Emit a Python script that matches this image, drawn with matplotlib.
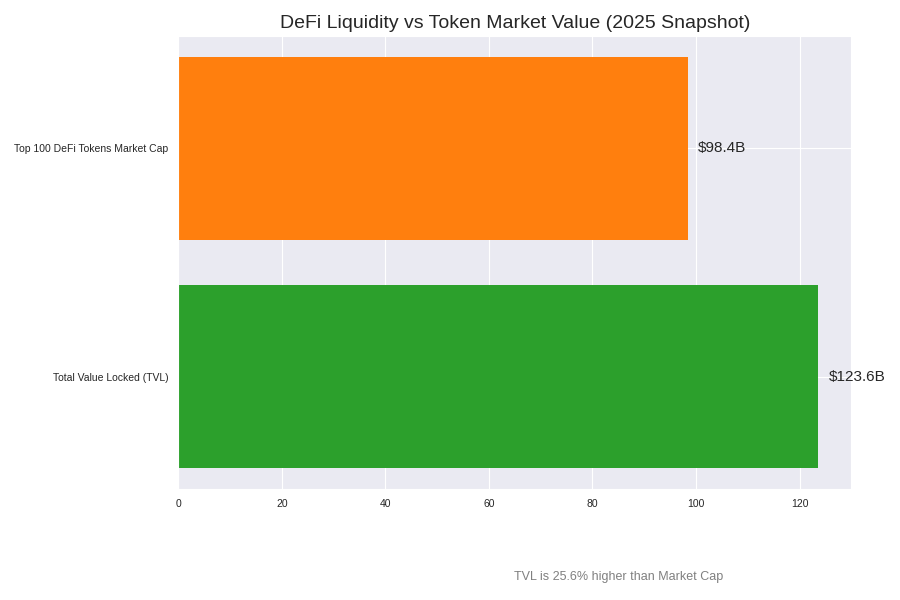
import matplotlib
matplotlib.use("Agg")
import matplotlib.pyplot as plt
import seaborn as sns

sns.set_style("darkgrid")
plt.rcParams['font.family'] = ['Liberation Sans', 'DejaVu Sans']

categories = ["Total Value Locked (TVL)", "Top 100 DeFi Tokens Market Cap"]
values = [123.6, 98.4]
colors = ["#2ca02c", "#ff7f0e"]

fig, ax = plt.subplots(figsize=(9, 6), dpi=100)
fig.subplots_adjust(left=0.198, right=0.946, top=0.94, bottom=0.185)

bars = ax.barh(categories, values, color=colors, height=0.8, edgecolor="none")
for bar, v in zip(bars, values):
    ax.text(v + 2, bar.get_y() + bar.get_height() / 2, f"${v}B",
            va="center", ha="left", fontsize=11)

ax.set_xlim(0, 130)
ax.set_xticks([0, 20, 40, 60, 80, 100, 120])
ax.tick_params(axis="both", labelsize=7.5, length=0, pad=7)
ax.set_title("DeFi Liquidity vs Token Market Value (2025 Snapshot)", fontsize=14)

pct = (values[0] - values[1]) / values[1] * 100
fig.text(0.687, 0.033, f"TVL is {pct:.1f}% higher than Market Cap",
         ha="center", fontsize=9, color="gray")

fig.savefig("out.png", dpi=100)
